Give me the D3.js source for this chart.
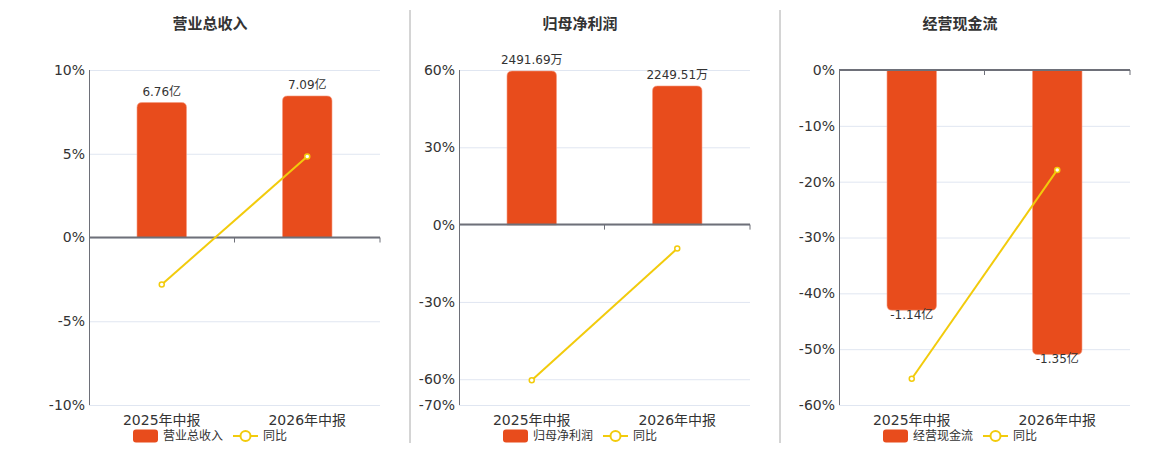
<!DOCTYPE html>
<html>
<head>
<meta charset="utf-8">
<script src="https://cdn.jsdelivr.net/npm/d3@7"></script>
<style>
  body { margin: 0; background: #fff; }
  svg { font-family: "DejaVu Sans", "Noto Sans CJK SC", sans-serif; }
</style>
</head>
<body>
<svg id="chart" width="1160" height="450"></svg>
<script>
// data
var categories = ["2025年中报", "2026年中报"];

var revenue = [6.76, 7.09];          // 亿
var revenueYoy = [-2.81, 4.84];      // %
var profit = [2491.69, 2249.51];     // 万
var profitYoy = [-60.4, -9.3];
var cashflow = [-1.14, -1.35];       // 亿
var cashflowYoy = [-55.3, -17.9];

var revenueTicks = [10, 5, 0, -5, -10];
var profitTicks = [60, 30, 0, -30, -60, -70];
var cashflowTicks = [0, -10, -20, -30, -40, -50, -60];

var barColor = "#e84c1c";
var lineColor = "#f2cb0c";
var axisColor = "#6e7079";
var gridColor = "#e0e6f1";
var textColor = "#333";

var top_y = 70, bottom_y = 405, plotW = 291;

var panels = [
  {title: "营业总收入", name: "营业总收入", left: 89, titleX: 210,
   bars: revenue, yoy: revenueYoy, unit: "亿", ticks: revenueTicks,
   yDomain: [-10, 10], barDomain: [-8.39, 8.39]},
  {title: "归母净利润", name: "归母净利润", left: 459, titleX: 580,
   bars: profit, yoy: profitYoy, unit: "万", ticks: profitTicks,
   yDomain: [-70, 60], barDomain: [-2913, 2508]},
  {title: "经营现金流", name: "经营现金流", left: 839, titleX: 960,
   bars: cashflow, yoy: cashflowYoy, unit: "亿", ticks: cashflowTicks,
   yDomain: [-60, 0], barDomain: [-1.59, 0]}
];

var svg = d3.select("#chart");

// separators between panels
[410, 780].forEach(function(x) {
  svg.append("line")
    .attr("x1", x).attr("x2", x).attr("y1", 10).attr("y2", 443)
    .attr("stroke", "#aaa").attr("stroke-width", 1);
});

panels.forEach(function(p) {
  var g = svg.append("g");

  var x = d3.scaleBand().domain(categories).range([p.left, p.left + plotW]);
  var y = d3.scaleLinear().domain(p.yDomain).range([bottom_y, top_y]);
  var yb = d3.scaleLinear().domain(p.barDomain).range([bottom_y, top_y]);
  var zero = y(0);

  // title
  g.append("text")
    .attr("x", p.titleX).attr("y", 29)
    .attr("text-anchor", "middle")
    .attr("font-size", "15px").attr("font-weight", "bold")
    .attr("fill", textColor)
    .text(p.title);

  // grid lines
  g.selectAll(".grid").data(p.ticks).enter().append("line")
    .attr("x1", p.left).attr("x2", p.left + plotW)
    .attr("y1", function(d) { return y(d) + 0.5; })
    .attr("y2", function(d) { return y(d) + 0.5; })
    .attr("stroke", gridColor);

  // y tick labels
  g.selectAll(".ylab").data(p.ticks).enter().append("text")
    .attr("x", p.left - 4)
    .attr("y", function(d) { return y(d); })
    .attr("dy", "0.35em")
    .attr("text-anchor", "end")
    .attr("font-size", "14px")
    .attr("fill", textColor)
    .text(function(d) { return d + "%"; });

  // y axis line
  g.append("line")
    .attr("x1", p.left + 0.5).attr("x2", p.left + 0.5)
    .attr("y1", top_y).attr("y2", bottom_y)
    .attr("stroke", axisColor);

  // bars
  var bw = x.bandwidth() * 0.34;
  var r = 5;
  g.selectAll(".bar").data(p.bars).enter().append("path")
    .attr("d", function(d, i) {
      var cx = x(categories[i]) + x.bandwidth() / 2;
      var x0 = cx - bw / 2, x1 = cx + bw / 2;
      var yv = yb(d), y0 = yb(0);
      var s = d >= 0 ? 1 : -1;
      return "M" + x0 + "," + y0 +
        "L" + x0 + "," + (yv + s * r) +
        "Q" + x0 + "," + yv + " " + (x0 + r) + "," + yv +
        "L" + (x1 - r) + "," + yv +
        "Q" + x1 + "," + yv + " " + x1 + "," + (yv + s * r) +
        "L" + x1 + "," + y0 + "Z";
    })
    .attr("fill", barColor)
    .attr("stroke", "#f59a80").attr("stroke-width", 0.6);

  // bar labels
  g.selectAll(".blab").data(p.bars).enter().append("text")
    .attr("x", function(d, i) { return x(categories[i]) + x.bandwidth() / 2; })
    .attr("y", function(d) { return d >= 0 ? yb(d) - 7 : yb(d) + 9; })
    .attr("text-anchor", "middle")
    .attr("font-size", "12px")
    .attr("fill", textColor)
    .text(function(d) { return d + p.unit; });

  // zero axis
  g.append("line")
    .attr("x1", p.left).attr("x2", p.left + plotW)
    .attr("y1", zero).attr("y2", zero)
    .attr("stroke", axisColor).attr("stroke-width", 2);
  g.selectAll(".xtick").data(categories).enter().append("line")
    .attr("x1", function(d) { return x(d) + x.bandwidth(); })
    .attr("x2", function(d) { return x(d) + x.bandwidth(); })
    .attr("y1", zero).attr("y2", zero + 5)
    .attr("stroke", axisColor);

  // x labels
  g.selectAll(".xlab").data(categories).enter().append("text")
    .attr("x", function(d) { return x(d) + x.bandwidth() / 2; })
    .attr("y", 425)
    .attr("text-anchor", "middle")
    .attr("font-size", "14px")
    .attr("fill", textColor)
    .text(function(d) { return d; });

  // yoy line
  var line = d3.line()
    .x(function(d, i) { return x(categories[i]) + x.bandwidth() / 2; })
    .y(function(d) { return y(d); });
  g.append("path").datum(p.yoy)
    .attr("d", line)
    .attr("fill", "none")
    .attr("stroke", lineColor).attr("stroke-width", 2);
  g.selectAll(".pt").data(p.yoy).enter().append("circle")
    .attr("cx", function(d, i) { return x(categories[i]) + x.bandwidth() / 2; })
    .attr("cy", function(d) { return y(d); })
    .attr("r", 2.5)
    .attr("fill", "#fff")
    .attr("stroke", lineColor).attr("stroke-width", 1.5);

  // legend
  var lx = p.left + 44;
  var ly = 436;
  g.append("rect")
    .attr("x", lx).attr("y", ly - 6.5).attr("width", 25).attr("height", 13)
    .attr("rx", 3).attr("fill", barColor);
  g.append("text")
    .attr("x", lx + 30).attr("y", ly).attr("dy", "0.35em")
    .attr("font-size", "12px").attr("fill", textColor)
    .text(p.name);
  var l2 = lx + 100;
  g.append("line")
    .attr("x1", l2).attr("x2", l2 + 25).attr("y1", ly).attr("y2", ly)
    .attr("stroke", lineColor).attr("stroke-width", 2);
  g.append("circle")
    .attr("cx", l2 + 12.5).attr("cy", ly).attr("r", 5)
    .attr("fill", "#fff").attr("stroke", lineColor).attr("stroke-width", 2);
  g.append("text")
    .attr("x", l2 + 30).attr("y", ly).attr("dy", "0.35em")
    .attr("font-size", "12px").attr("fill", textColor)
    .text("同比");
});
</script>
</body>
</html>
